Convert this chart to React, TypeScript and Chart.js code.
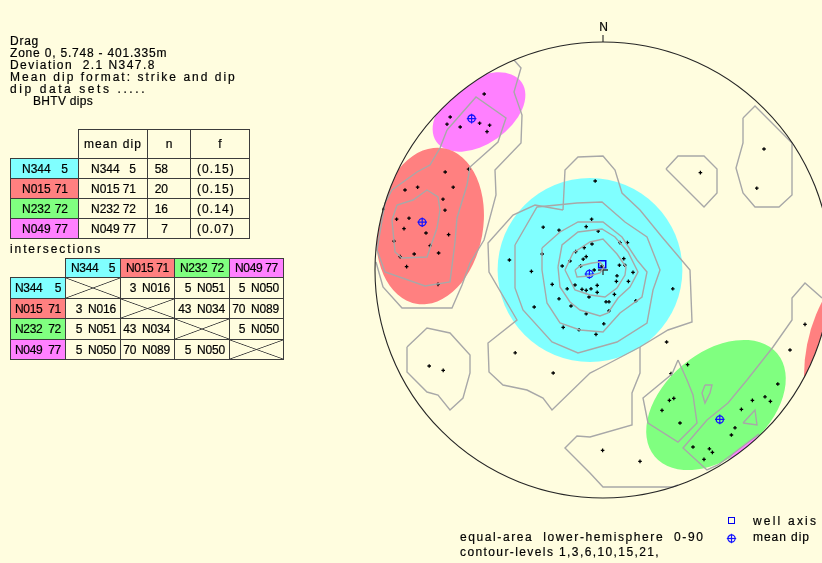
import React, { useEffect, useRef } from "react";
import { Chart, registerables } from "chart.js";

Chart.register(...registerables);

type P = [number, number];

// ---------- projection (equal-area net, plot units) ----------
const NET_RADIUS = 114;

// ---------- text ----------
const headerLines = [
  "Drag",
  "Zone 0, 5.748 - 401.335m",
  "Deviation  2.1 N347.8",
  "Mean dip format: strike and dip",
  "dip data sets .....",
  "BHTV dips",
];
const projectionLabel = "equal-area  lower-hemisphere  0-90";
const contourLabel = "contour-levels 1,3,6,10,15,21,";

// ---------- dip sets ----------
const setStrikes = ["N344", "N015", "N232", "N049"];
const setDips = [5, 71, 72, 77];
const setCounts = [58, 20, 16, 7];
const setFractions = ["(0.15)", "(0.15)", "(0.14)", "(0.07)"];
const setColours = ["#80FFFF", "#FF8080", "#80FF80", "#FF80FF"];

// intersections (plunge, trend)
const interPlunge: (number | null)[][] = [
  [null, 3, 5, 5],
  [3, null, 43, 70],
  [5, 43, null, 5],
  [5, 70, 5, null],
];
const interTrend: (string | null)[][] = [
  [null, "N016", "N051", "N050"],
  ["N016", null, "N034", "N089"],
  ["N051", "N034", null, "N050"],
  ["N050", "N089", "N050", null],
];

// ---------- projected poles ----------
const magentaPoles: P[] = [
  [-59.4, 88], [-76.4, 76.5], [-78, 72.9], [-71.4, 71.5], [-61.7, 73.4], [-56.7, 72.4], [-58, 69.2],
];
const redPoles: P[] = [
  [-78.9, 49], [-67.2, 50.4], [-99, 40], [-92.7, 41.4], [-74.9, 41.4], [-80, 35.4], [-110, 30.5],
  [-79, 29.9], [-103.2, 25.4], [-97, 25.9], [-99.5, 20.7], [-88.5, 18.5], [-77.2, 17.7], [-104.5, 14.4],
  [-86.4, 12.2], [-94.4, 8], [-82.2, 8.5], [-101.4, 6.7], [-98.2, 1.7], [-82.5, -7.2],
];
const cyanPoles: P[] = [
  [-3.9, 44.5], [-29.9, 21.4], [-22, 19.9], [-5.7, 25.4], [-8.4, 21.7], [-2.4, 19.4], [8.5, 13.7],
  [12.2, 13.7], [-5.5, 13], [-9.4, 11.2], [-13.7, 9.2], [-8.4, 6.7], [-9.9, 5.4], [-16.5, 4.5],
  [-20.4, 2], [-30.4, 8], [10.4, 5.7], [8.2, 2.4], [10.9, 2.4], [-11.2, 2], [-4.4, 0], [-0.5, 2],
  [7, -2.9], [15, -1.2], [12.7, -5.7], [6.7, -5.7], [-14, -7.5], [-17.9, -9.4], [-10.5, -9.7],
  [-8.4, -10.2], [-6, -9.4], [-2.9, -7.7], [-2.9, -11.2], [-25.4, -7.2], [-7, -13.5], [5.7, -12.2],
  [-22, -14.4], [1.5, -15.9], [3, -15.9], [16.4, -15.4], [-16, -18], [-34.4, -18.5], [-8.4, -21.9],
  [3, -20.4], [0.4, -26.9], [-19.9, -28.7], [-12, -29.9], [-3.5, -32.2], [34.9, -9.4], [31.8, -36],
  [-46.8, 5], [-35.8, -0.7], [42.3, -47.3], [34, -51.8],
];
const greenPoles: P[] = [
  [87.4, -57], [81, -63.4], [83.7, -65.7], [74.7, -65.2], [33.2, -65.2], [35.4, -64.2], [29.5, -70.2],
  [69.2, -69.7], [38.5, -76.5], [66, -78.9], [64.2, -82.5], [45, -88.5], [53.2, -89.4], [54.7, -91.2],
  [50.5, -94.7], [-0.2, -90.2], [18.5, -95.7],
];
const scatteredPoles: P[] = [
  [-86.9, -48], [-79.9, -50.2], [-43.9, -41.4], [-24.9, -51.5], [48.7, 48.7], [80.5, 60.5],
  [76.9, 40.9], [101, -27.2], [93.5, -40],
];

const meanDips: P[] = [[-6.8, -2], [-90.4, 23.9], [58.4, -74.7], [-65.7, 75.7]];
const wellAxis: P[] = [[-0.4, 2.9]];
const netCentre: P[] = [[0, 0]];

// ---------- confidence cones (projected ellipses) ----------
const coneCentres: P[] = [[-6.5, 0], [-62, 79], [-86.5, 22], [56.5, -67.5], [97.3, -123.4], [180.5, -52.8]];
const coneAxes: P[] = [[46.2, 46], [26, 16], [39.5, 26.5], [40, 26], [45, 45], [80, 80]];
const coneTilt = [0, 35, 80, 40, 0, 0];
const coneSet = [0, 3, 1, 2, 3, 1];

// ---------- density contours ----------
const contourWest: P[] = [
  [-44.5, 105], [-41, 101], [-44.5, 89], [-40.5, 77.5], [-41, 63.5], [-54, 50], [-53.5, 37.5],
  [-59.5, 15], [-66.5, 3.5], [-70.5, -7.5], [-75.5, -19], [-100.5, -19], [-110, -8.5], [-113.5, 4],
];
const contourWest2: P[] = [
  [-78, 70], [-63.5, 86.5], [-48.5, 76], [-52.5, 64], [-66.5, 51.5], [-68, 42.5], [-73, 26], [-74, 14],
  [-76.5, -6], [-89, -8], [-109, -1], [-113, 10], [-109, 33.5], [-105.5, 40], [-93, 49], [-86.5, 52.5],
  [-81.5, 61], [-78, 70],
];
const contourWest3: P[] = [
  [-105.5, 25], [-104, 9], [-100.5, 6], [-88, 6.5], [-83, 21], [-81.5, 30], [-82.5, 36.5], [-88, 40],
  [-95, 35], [-103, 32.5], [-105.5, 25],
];
const contourCentre1: P[] = [
  [-20, 30], [-19, 50], [-12.5, 56.5], [0, 57], [6, 50], [9.5, 38.5], [18.5, 30], [29.5, 16.5],
  [43.5, 0], [44.5, -26], [32.5, -30], [18.5, -38.5], [-1.5, -49], [-6.5, -51.5], [-25.5, -70],
  [-30, -64], [-38, -60], [-50, -57.5], [-57, -51], [-57.5, -36.5], [-43, -25], [-57, -1],
  [-57.5, 13.5], [-45, 27.5], [-34, 32.5], [-20, 30],
];
const contourCentre2: P[] = [
  [-44, 12.5], [-33, 31.5], [-13, 33.5], [-0.5, 34], [11, 24], [22, 16.5], [28.5, 0], [25, -10],
  [22, -26.5], [7, -36], [-12.5, -41.5], [-25.5, -36], [-40, -20], [-44, -9], [-44, 12.5],
];
const contourCentre3: P[] = [
  [-30.5, 11], [-21.5, 19], [-12.5, 24], [0, 24], [9.5, 16.5], [17, 5], [22, -1], [19.5, -13.5],
  [8.5, -21.5], [0, -31], [-11.5, -30], [-21.5, -26.5], [-28, -16.5], [-30.5, 0], [-30.5, 11],
];
const contourCentre4: P[] = [
  [-22.5, 1.5], [-20.5, 12.5], [-12.5, 19], [-0.5, 20.5], [6, 16.5], [12.5, 9], [17.5, -1],
  [13.5, -8.5], [7.5, -14], [2.5, -21.5], [-1.5, -23], [-11.5, -20], [-16.5, -16], [-21.5, -8.5],
  [-22.5, 1.5],
];
const contourCentre5: P[] = [
  [-19, 0], [-15, 8.5], [-6.5, 14], [0, 15.5], [7, 8], [11.5, 1.5], [11, -2.5], [7, -9], [1, -13.5],
  [-6.5, -12.5], [-14, -10], [-19, 0],
];
const contourCentre6: P[] = [
  [-14, 0], [-11.5, 2], [-5.5, 3.5], [-1.5, 4], [0.5, 1.5], [-1.5, -1.5], [-7, -3], [-13, -3.5], [-14, 0],
];
const contourNE1: P[] = [[31.5, 50.5], [37.5, 57], [50.5, 57], [57, 50.5], [57, 38.5], [50.5, 31.5], [31.5, 50.5]];
const contourNE2: P[] = [
  [70, 76], [76, 82], [94.5, 63.5], [94.5, 37.5], [88, 31.5], [76, 31.5], [70, 38.5], [66.5, 51],
  [70, 63.5], [70, 76],
];
const contourSW: P[] = [
  [-98, -38.5], [-88, -29], [-76.5, -31.5], [-66.5, -42.5], [-66.5, -51.5], [-70, -64], [-76.5, -70],
  [-82.5, -62.5], [-88, -61], [-98, -51], [-98, -38.5],
];
const contourSE1: P[] = [
  [18.5, -38.5], [18.5, -51.5], [14.5, -61.5], [14.5, -77.5], [-6.5, -83.5], [-13, -83], [-19, -89],
  [-6.5, -101.5], [0, -108.5], [35, -108.5], [37.5, -107.5],
];
const contourSE2: P[] = [
  [37.5, -45], [34.5, -52], [20, -64], [22.5, -76.5], [37.5, -86], [47, -76.5], [45, -62.5], [42, -55],
  [37.5, -45],
];
const contourSE3: P[] = [
  [109.5, -14], [101, -6.5], [94.5, -14], [94.5, -25], [85, -38.5], [72, -55], [62.5, -66.5],
  [52, -75], [40, -89], [52, -100], [57.5, -97.5], [78, -82],
];
const contourSE4: P[] = [[51, -57.5], [49.5, -61.5], [51, -66.5], [53.5, -61.5], [54.5, -57.5], [51, -57.5]];
const contourSE5: P[] = [[70, -76.5], [76, -70], [77, -77.5], [70, -76.5]];

const contours: P[][] = [
  contourWest, contourWest2, contourWest3, contourCentre1, contourCentre2, contourCentre3,
  contourCentre4, contourCentre5, contourCentre6, contourNE1, contourNE2, contourSW, contourSE1,
  contourSE2, contourSE3, contourSE4, contourSE5,
];

// ---------- styling ----------
const BG = "#FFFDDF";
const FONT = "'Liberation Sans', Arial, Helvetica, sans-serif";
const LINE = "#3c3c3c";
const BLUE = "#1414FF";
const STROKE = "0.2px #000";

const toXY = (pts: P[]) => pts.map(([x, y]) => ({ x, y }));

const stereonetPlugin = {
  id: "stereonet",
  beforeDatasetsDraw(chart: any) {
    const { ctx, scales } = chart;
    const sx = scales.x;
    const sy = scales.y;
    const cx = sx.getPixelForValue(0);
    const cy = sy.getPixelForValue(0);
    const r = sx.getPixelForValue(NET_RADIUS) - cx;
    ctx.save();
    ctx.beginPath();
    ctx.arc(cx, cy, r, 0, Math.PI * 2);
    ctx.clip();
    coneCentres.forEach(([ux, uy], i) => {
      const px = sx.getPixelForValue(ux);
      const py = sy.getPixelForValue(uy);
      const ra = sx.getPixelForValue(ux + coneAxes[i][0]) - px;
      const rb = sx.getPixelForValue(ux + coneAxes[i][1]) - px;
      ctx.beginPath();
      ctx.ellipse(px, py, ra, rb, (-coneTilt[i] * Math.PI) / 180, 0, Math.PI * 2);
      ctx.fillStyle = setColours[coneSet[i]];
      ctx.fill();
    });
    ctx.restore();
    ctx.save();
    ctx.beginPath();
    ctx.arc(cx, cy, r + 1, 0, Math.PI * 2);
    ctx.clip();
  },
  afterDatasetsDraw(chart: any) {
    const { ctx, scales } = chart;
    ctx.restore();
    const sx = scales.x;
    const sy = scales.y;
    const cx = sx.getPixelForValue(0);
    const cy = sy.getPixelForValue(0);
    const r = sx.getPixelForValue(NET_RADIUS) - cx;
    ctx.save();
    ctx.strokeStyle = "#262626";
    ctx.lineWidth = 1.1;
    ctx.beginPath();
    ctx.arc(cx, cy, r, 0, Math.PI * 2);
    ctx.stroke();
    ctx.beginPath();
    ctx.moveTo(cx, cy - r);
    ctx.lineTo(cx, cy - r - 7);
    ctx.stroke();
    ctx.restore();
  },
};

function Txt({ x, y, ls = 0, size = 12, children, style }: any) {
  return (
    <div
      style={{
        position: "absolute",
        left: x,
        top: y,
        fontFamily: FONT,
        fontSize: size,
        lineHeight: "12px",
        letterSpacing: ls,
        whiteSpace: "pre",
        color: "#000",
        WebkitTextStroke: STROKE,
        ...style,
      }}
    >
      {children}
    </div>
  );
}

function Cell({ l, t, r, b, bg, border = true, style, children }: any) {
  return (
    <div
      style={{
        position: "absolute",
        left: l,
        top: t,
        width: r - l + 1,
        height: b - t + 1,
        boxSizing: "border-box",
        border: border ? `1px solid ${LINE}` : "none",
        background: bg,
        display: "flex",
        alignItems: "center",
        fontFamily: FONT,
        fontSize: 12,
        lineHeight: "12px",
        whiteSpace: "pre",
        color: "#000",
        WebkitTextStroke: STROKE,
        ...style,
      }}
    >
      {children}
    </div>
  );
}

const crossBg = `linear-gradient(to top right, transparent calc(50% - 0.8px), ${LINE} 50%, transparent calc(50% + 0.8px)), linear-gradient(to bottom right, transparent calc(50% - 0.8px), ${LINE} 50%, transparent calc(50% + 0.8px))`;

function SetLabel({ i, padL, padR, ls = 0 }: any) {
  return (
    <div style={{ display: "flex", justifyContent: "space-between", width: "100%", paddingLeft: padL, paddingRight: padR, boxSizing: "border-box", letterSpacing: ls }}>
      <span>{setStrikes[i]}</span>
      <span>{String(setDips[i])}</span>
    </div>
  );
}

function Tables() {
  const c1 = [10, 78, 147, 190, 249];
  const r1 = [129, 158, 178, 198, 218, 238];
  const c2 = [10, 65, 120, 174, 229, 283];
  const r2 = [258, 277, 298, 318, 339, 359];
  const cells: any[] = [];
  cells.push(<Cell key="h1" l={c1[1]} t={r1[0]} r={c1[2]} b={r1[1]} style={{ justifyContent: "center", letterSpacing: 1.1 }}>mean dip</Cell>);
  cells.push(<Cell key="h2" l={c1[2]} t={r1[0]} r={c1[3]} b={r1[1]} style={{ justifyContent: "center" }}>n</Cell>);
  cells.push(<Cell key="h3" l={c1[3]} t={r1[0]} r={c1[4]} b={r1[1]} style={{ justifyContent: "center" }}>f</Cell>);
  setStrikes.forEach((_, i) => {
    const t = r1[i + 1];
    const b = r1[i + 2];
    cells.push(
      <Cell key={`a${i}`} l={c1[0]} t={t} r={c1[1]} b={b} bg={setColours[i]}>
        <SetLabel i={i} padL={11} padR={10} />
      </Cell>
    );
    cells.push(
      <Cell key={`m${i}`} l={c1[1]} t={t} r={c1[2]} b={b}>
        <SetLabel i={i} padL={12} padR={11} />
      </Cell>
    );
    cells.push(
      <Cell key={`n${i}`} l={c1[2]} t={t} r={c1[3]} b={b} style={{ justifyContent: "flex-end", paddingRight: 22 }}>
        {String(setCounts[i])}
      </Cell>
    );
    cells.push(
      <Cell key={`f${i}`} l={c1[3]} t={t} r={c1[4]} b={b} style={{ paddingLeft: 6, letterSpacing: 1.1 }}>
        {setFractions[i]}
      </Cell>
    );
  });
  setStrikes.forEach((_, j) => {
    cells.push(
      <Cell key={`ih${j}`} l={c2[j + 1]} t={r2[0]} r={c2[j + 2]} b={r2[1]} bg={setColours[j]}>
        <SetLabel i={j} padL={5} padR={5} ls={-0.3} />
      </Cell>
    );
  });
  setStrikes.forEach((_, i) => {
    const t = r2[i + 1];
    const b = r2[i + 2];
    cells.push(
      <Cell key={`il${i}`} l={c2[0]} t={t} r={c2[1]} b={b} bg={setColours[i]}>
        <SetLabel i={i} padL={4} padR={4} ls={-0.3} />
      </Cell>
    );
    setStrikes.forEach((__, j) => {
      const p = interPlunge[i][j];
      if (p === null) {
        cells.push(<Cell key={`ix${i}${j}`} l={c2[j + 1]} t={t} r={c2[j + 2]} b={b} style={{ background: crossBg }} />);
      } else {
        cells.push(
          <Cell key={`ix${i}${j}`} l={c2[j + 1]} t={t} r={c2[j + 2]} b={b} style={{ justifyContent: "flex-end", paddingRight: 4, letterSpacing: -0.2 }}>
            <span>{String(p)}</span>
            <span style={{ marginLeft: 6 }}>{interTrend[i][j]}</span>
          </Cell>
        );
      }
    });
  });
  return <>{cells}</>;
}

export default function App() {
  const canvasRef = useRef<HTMLCanvasElement | null>(null);

  useEffect(() => {
    const canvas = canvasRef.current;
    if (!canvas) return;
    const contourSets = contours.map((pts) => ({
      data: toXY(pts),
      showLine: true,
      borderColor: "#A8A8A8",
      borderWidth: 1.4,
      pointRadius: 0,
      pointHoverRadius: 0,
      fill: false,
      tension: 0,
    }));
    const allPoles = [...magentaPoles, ...redPoles, ...cyanPoles, ...greenPoles, ...scatteredPoles];
    const chart = new Chart(canvas, {
      type: "scatter",
      data: {
        datasets: [
          ...contourSets,
          {
            data: toXY(allPoles),
            pointStyle: "cross",
            pointRadius: 1.8,
            pointBorderWidth: 1.3,
            pointBorderColor: "#000",
            borderColor: "#000",
          },
          {
            data: toXY(netCentre),
            pointStyle: "cross",
            pointRadius: 5,
            pointBorderWidth: 1.3,
            pointBorderColor: "#333",
          },
          {
            data: toXY(wellAxis),
            pointStyle: "rect",
            pointRadius: 5,
            pointBorderWidth: 1.5,
            pointBorderColor: "#0000EE",
            pointBackgroundColor: "rgba(0,0,0,0)",
          },
          {
            data: toXY(meanDips),
            pointStyle: "circle",
            pointRadius: 3.6,
            pointBorderWidth: 1.3,
            pointBorderColor: BLUE,
            pointBackgroundColor: "rgba(0,0,0,0)",
          },
          {
            data: toXY(meanDips),
            pointStyle: "cross",
            pointRadius: 4.8,
            pointBorderWidth: 1.2,
            pointBorderColor: BLUE,
          },
        ] as any,
      },
      options: {
        responsive: false,
        animation: false,
        events: [],
        layout: { padding: 0, autoPadding: false },
        plugins: { legend: { display: false }, tooltip: { enabled: false } },
        scales: {
          x: { type: "linear", min: -301.5, max: 109.5, display: false },
          y: { type: "linear", min: -146.5, max: 135, display: false },
        },
      } as any,
      plugins: [stereonetPlugin],
    });
    return () => chart.destroy();
  }, []);

  const headerLs = [0.75, 0.8, 1.45, 2.0, 2.58, 0.3];
  const headerX = [10, 10, 10, 10, 10, 33];

  return (
    <div style={{ position: "fixed", left: 0, top: 0, width: 822, height: 563, background: BG, overflow: "hidden" }}>
      <canvas ref={canvasRef} width={822} height={563} style={{ position: "absolute", left: 0, top: 0 }} />
      {headerLines.map((line, i) => (
        <Txt key={i} x={headerX[i]} y={34.8 + i * 12.1} ls={headerLs[i]}>
          {line}
        </Txt>
      ))}
      <Tables />
      <Txt x={10} y={243.3} ls={1.9}>intersections</Txt>
      <Txt x={597} y={20.5} style={{ width: 13, textAlign: "center" }}>N</Txt>
      <Txt x={460} y={530.5} ls={1.6}>{projectionLabel}</Txt>
      <Txt x={460} y={545.5} ls={1.4}>{contourLabel}</Txt>
      <div style={{ position: "absolute", left: 728, top: 517, width: 7, height: 7, boxSizing: "border-box", border: `1.3px solid #0000EE` }} />
      <svg style={{ position: "absolute", left: 726, top: 533 }} width={11} height={11}>
        <circle cx={5.5} cy={5.5} r={3.6} fill="none" stroke={BLUE} strokeWidth={1.2} />
        <line x1={0.8} y1={5.5} x2={10.2} y2={5.5} stroke={BLUE} strokeWidth={1.2} />
        <line x1={5.5} y1={0.8} x2={5.5} y2={10.2} stroke={BLUE} strokeWidth={1.2} />
      </svg>
      <Txt x={753} y={514.8} ls={2.2}>well axis</Txt>
      <Txt x={753} y={530.8} ls={0.95}>mean dip</Txt>
    </div>
  );
}
